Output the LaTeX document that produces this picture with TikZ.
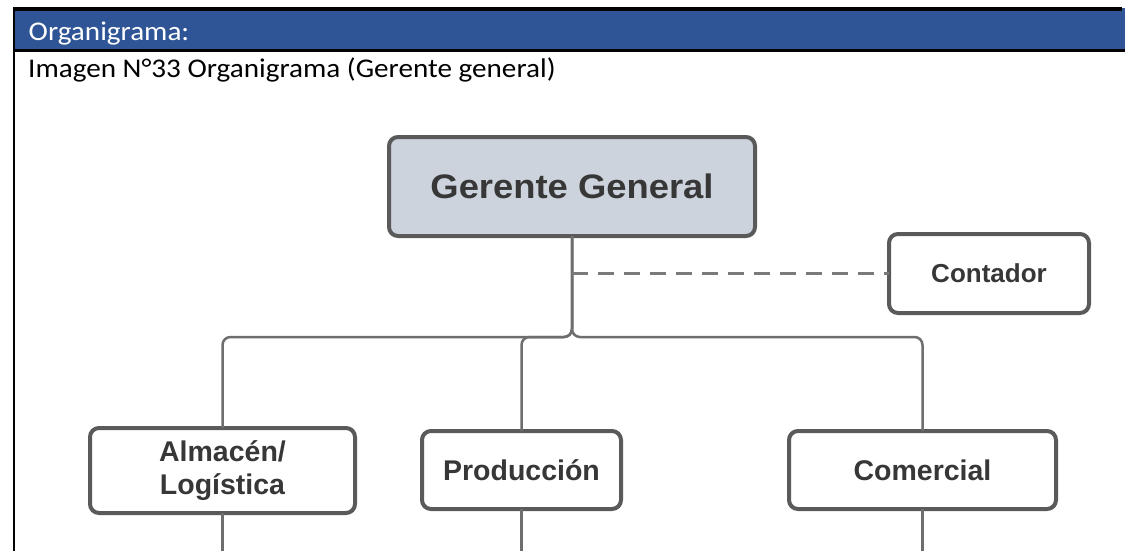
\documentclass[tikz,border=0pt]{standalone}
\usepackage{fontspec}
\setmainfont{Carlito}
\newfontfamily\hdrfont{Carlito}[FakeStretch=1.08]
\newfontfamily\boxfont{Liberation Sans}
\newfontfamily\bigboxfont{Liberation Sans}[FakeStretch=1.07]
\definecolor{hdrblue}{RGB}{47,85,151}
\definecolor{boxline}{RGB}{90,90,90}
\definecolor{linkgray}{RGB}{110,110,110}
\definecolor{dashgray}{RGB}{122,122,122}
\definecolor{topfill}{RGB}{205,211,220}
\definecolor{labelgray}{RGB}{55,55,55}
\begin{document}
\begin{tikzpicture}[x=1pt,y=-1pt,
  orgbox/.style={draw=boxline, line width=4pt, rounded corners=9pt, fill=white,
    inner sep=0pt, outer sep=0pt, align=center, text=labelgray},
  unitlabel/.style={font=\boxfont\bfseries\fontsize{28.5}{33}\selectfont},
  hdrtext/.style={anchor=base west, inner sep=0pt, font=\hdrfont\fontsize{27}{31}\selectfont},
  link/.style={draw=linkgray, line width=2.5pt, rounded corners=8pt},
  dottedlink/.style={draw=dashgray, line width=3pt, dash pattern=on 16pt off 10pt}]
  \useasboundingbox (0,0) rectangle (1125,551);
  \fill[white] (0,0) rectangle (1125,551);

  % table frame and title bar
  \fill[hdrblue] (15,11) rectangle (1125,49.3);
  \fill[hdrblue] (1122,8) rectangle (1125,11);
  \fill[black] (12.5,7.5) rectangle (1122,11);
  \fill[black] (12.5,49.3) rectangle (1125,51.7);
  \fill[black] (12.5,7.5) rectangle (15,551);
  \node[hdrtext, text=white] (title) at (28.5,40.5) {Organigrama:};
  \node[hdrtext, text=black] (caption) at (28,77.3) {Imagen N°33 Organigrama (Gerente general)};

  % named points for the bus and the lower edge
  \coordinate (bus) at (572,337);
  \coordinate (bottom) at (0,551);

  % boxes
  \node[orgbox, fill=topfill, minimum width=366pt, minimum height=99pt,
        font=\bigboxfont\bfseries\fontsize{34}{40}\selectfont] (gg) at (572,186.5) {Gerente General};
  \node[orgbox, minimum width=200pt, minimum height=79pt,
        font=\boxfont\bfseries\fontsize{26}{30}\selectfont] (cont) at (989,273.5) {Contador};
  \node[orgbox, unitlabel, minimum width=265pt, minimum height=85pt] (alm) at (222.5,470.5) {Almacén/\\Logística};
  \node[orgbox, unitlabel, minimum width=199pt, minimum height=78pt] (prod) at (521.5,470) {Producción};
  \node[orgbox, unitlabel, minimum width=267pt, minimum height=78pt] (com) at (922.5,470) {Comercial};

  % connectors from the general manager down to the three units
  \draw[link] (gg.south) -- (bus) -| (alm.north);
  \draw[link] (gg.south) -- (bus) -| (prod.north);
  \draw[link] (gg.south) -- (bus) -| (com.north);
  % staff line to the accountant
  \draw[dottedlink] (gg.south |- cont.west) -- (cont.west);
  % lines continuing below the units
  \draw[link] (alm.south) -- (alm.south |- bottom);
  \draw[link] (prod.south) -- (prod.south |- bottom);
  \draw[link] (com.south) -- (com.south |- bottom);
\end{tikzpicture}
\end{document}
